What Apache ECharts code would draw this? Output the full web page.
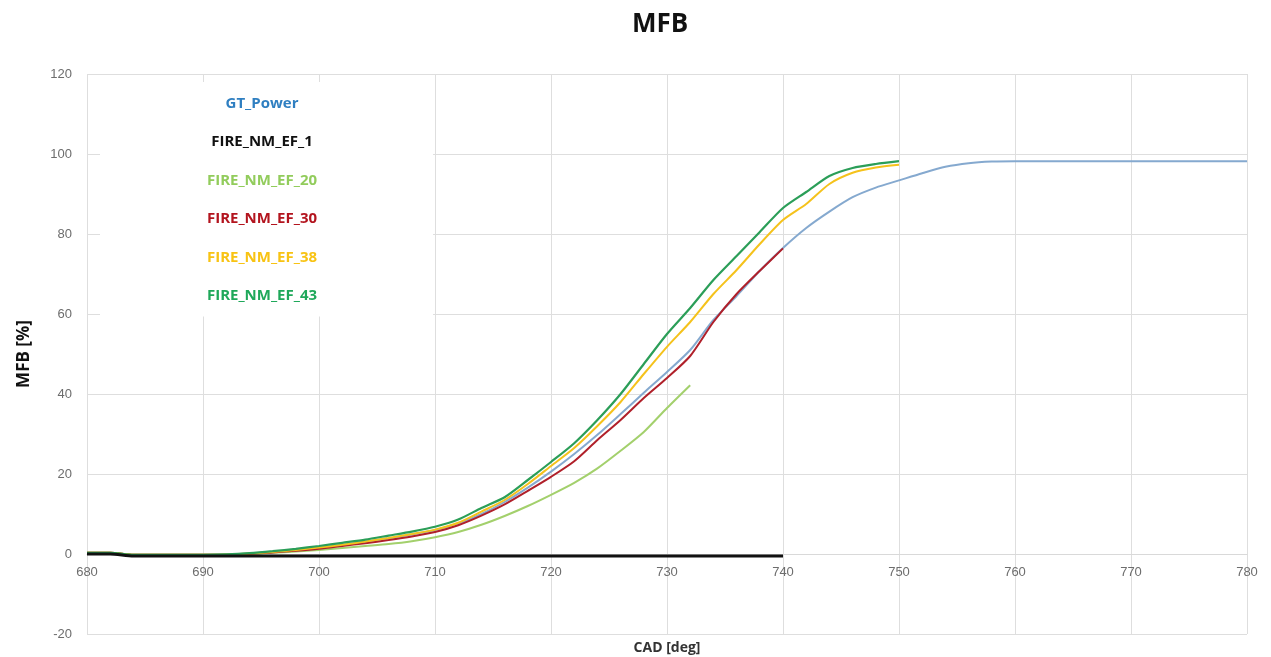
<!DOCTYPE html>
<html>
<head>
<meta charset="utf-8">
<script src="https://cdn.jsdelivr.net/npm/echarts@6/dist/echarts.min.js"></script>
<style>
html,body{margin:0;padding:0;background:#fff;}
#main{width:1271px;height:657px;}
</style>
</head>
<body>
<div id="main"></div>
<script>
// CAD [deg], pas de 2
var cad = [680,682,684,686,688,690,692,694,696,698,700,702,704,706,708,710,712,714,716,718,720,722,724,726,728,730,732,734,736,738,740,742,744,746,748,750,752,754,756,758,760,762,764,766,768,770,772,774,776,778,780];

var gtPower = [0.3,0.3,-0.2,-0.2,-0.2,-0.2,-0.1,0.1,0.5,1.0,1.5,2.2,3.0,3.9,4.9,6.0,7.6,10.0,13.0,16.6,20.6,25.0,29.8,35.0,40.3,45.5,51.0,58.5,64.5,70.8,76.5,81.5,85.6,89.2,91.6,93.4,95.2,96.8,97.7,98.1,98.2,98.2,98.2,98.2,98.2,98.2,98.2,98.2,98.2,98.2,98.2];
var ef1 = [0,0,-0.5,-0.5,-0.5,-0.5,-0.5,-0.5,-0.5,-0.5,-0.5,-0.5,-0.5,-0.5,-0.5,-0.5,-0.5,-0.5,-0.5,-0.5,-0.5,-0.5,-0.5,-0.5,-0.5,-0.5,-0.5,-0.5,-0.5,-0.5,-0.5];
var ef20 = [0.3,0.3,-0.2,-0.2,-0.2,-0.2,-0.2,0,0.3,0.6,1.0,1.5,2.0,2.5,3.2,4.2,5.5,7.3,9.5,12.0,14.8,17.8,21.4,25.8,30.5,36.5,42.2];
var ef30 = [0.3,0.3,-0.2,-0.2,-0.2,-0.2,-0.2,0,0.4,0.8,1.3,2.0,2.7,3.5,4.4,5.5,7.2,9.6,12.4,15.8,19.3,23.2,28.5,33.5,39.0,44.0,49.5,58.0,65.0,70.8,76.4];
var ef38 = [0.3,0.3,-0.2,-0.2,-0.2,-0.2,-0.1,0.1,0.5,1.0,1.6,2.3,3.1,4.0,5.0,6.1,7.8,10.6,13.5,17.5,22.0,26.5,32.0,38.0,45.0,51.8,58.0,65.0,71.0,77.5,83.5,87.5,92.5,95.3,96.6,97.3];
var ef43 = [0.3,0.3,-0.2,-0.2,-0.2,-0.2,-0.1,0.2,0.7,1.3,2.0,2.8,3.6,4.6,5.6,6.8,8.6,11.5,14.2,18.5,23.0,27.7,33.5,40.0,47.5,55.0,61.5,68.5,74.5,80.5,86.5,90.5,94.5,96.5,97.5,98.2];

var names = ['GT_Power','FIRE_NM_EF_1','FIRE_NM_EF_20','FIRE_NM_EF_30','FIRE_NM_EF_38','FIRE_NM_EF_43'];
var lineColors = ['#85a9cf','#111111','#a3d06c','#b0202a','#f5c21b','#2b9e58'];
var textColors = ['#2f7fc1','#111111','#92cc5c','#b3141e','#f8c313','#1fa85a'];
var values = [gtPower, ef1, ef20, ef30, ef38, ef43];
var widths = [2, 3, 2, 2, 2, 2.2];

function pairs(arr){
	var out = [];
	for(var i=0;i<arr.length;i++){
		out.push([cad[i], arr[i]]);
	}
	return out;
}

// ordre de dessin : bleu dessous, noir au-dessus
var order = [0,2,3,4,5,1];
var _series = [];
for(var k=0;k<order.length;k++){
	var i = order[k];
	_series.push({
		name: names[i],
		type: 'line',
		showSymbol: false,
		symbol: 'none',
		smooth: 0.25,
		z: 2 + k,
		lineStyle: {color: lineColors[i], width: widths[i]},
		itemStyle: {color: lineColors[i]},
		data: pairs(values[i])
	});
}

var legendData = [];
for(var j=0;j<names.length;j++){
	legendData.push({name: names[j], textStyle: {color: textColors[j]}});
}

var myChart = echarts.init(document.getElementById('main'));
var option = {
	animation: false,
	backgroundColor: '#fff',
	title: {
		text: 'MFB',
		left: 627,
		top: 7,
		textStyle: {fontFamily: 'Open Sans', fontSize: 26, fontWeight: 'bold', color: '#111'}
	},
	legend: {
		orient: 'vertical',
		left: 100,
		top: 82,
		z: 10,
		backgroundColor: '#fff',
		padding: [14, 116, 13, 82],
		itemGap: 23.5,
		itemWidth: 0,
		itemHeight: 15,
		icon: 'none',
		selectedMode: false,
		formatter: function(name){ return '{a|' + name + '}'; },
		textStyle: {
			fontFamily: 'Open Sans', fontSize: 15, fontWeight: 'bold',
			rich: {a: {width: 150, align: 'center', fontFamily: 'Open Sans', fontSize: 15, fontWeight: 'bold'}}
		},
		data: legendData
	},
	grid: {
		left: 87,
		right: 24,
		top: 74,
		bottom: 23,
		containLabel: false,
		outerBoundsMode: 'none'
	},
	xAxis: {
		type: 'value',
		min: 680,
		max: 780,
		interval: 10,
		offset: -80,
		name: 'CAD [deg]',
		nameLocation: 'middle',
		nameGap: 87,
		nameTextStyle: {fontFamily: 'Open Sans', fontSize: 14, fontWeight: 'bold', color: '#333'},
		axisLine: {onZero: false, lineStyle: {color: '#d9d9d9', width: 1}},
		axisTick: {show: false},
		axisLabel: {fontFamily: 'Liberation Sans', fontSize: 13, color: '#6d6d6d', margin: 12},
		splitLine: {show: true, lineStyle: {color: '#dedede', width: 1}}
	},
	yAxis: {
		type: 'value',
		min: -20,
		max: 120,
		interval: 20,
		name: 'MFB [%]',
		nameLocation: 'middle',
		nameGap: 54,
		nameTextStyle: {fontFamily: 'Open Sans', fontSize: 17, fontWeight: 'bold', color: '#111'},
		axisLine: {show: false},
		axisTick: {show: false},
		axisLabel: {fontFamily: 'Liberation Sans', fontSize: 13, color: '#6d6d6d', margin: 15},
		splitLine: {show: true, lineStyle: {color: '#dedede', width: 1}}
	},
	series: _series
};
myChart.setOption(option);
</script>
</body>
</html>
